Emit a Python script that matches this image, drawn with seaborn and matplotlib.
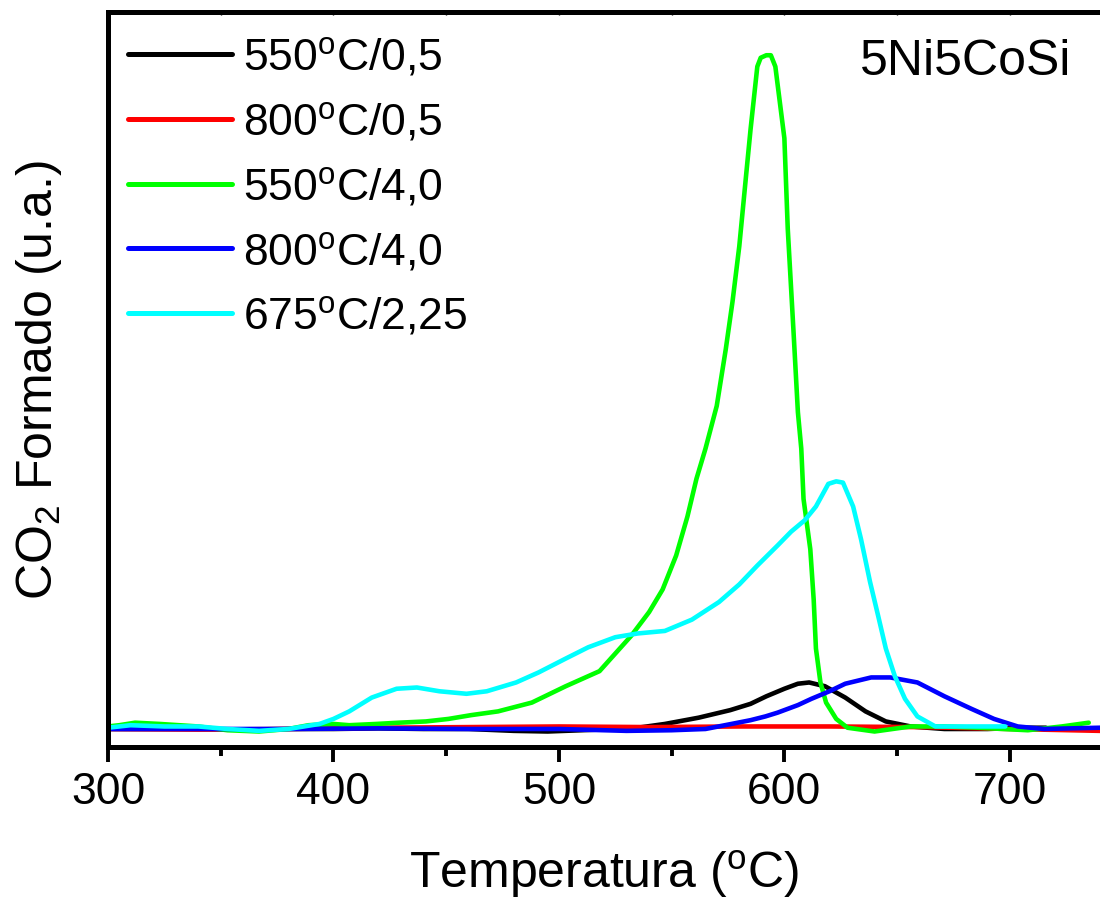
import numpy as np
import pandas as pd
import matplotlib
matplotlib.use("Agg")
import matplotlib.pyplot as plt
import seaborn as sns

# Temperature-programmed oxidation profiles (CO2 formed, arbitrary units)
labels = [r"550$^{\mathrm{o}}$C/0,5", r"800$^{\mathrm{o}}$C/0,5",
          r"550$^{\mathrm{o}}$C/4,0", r"800$^{\mathrm{o}}$C/4,0",
          r"675$^{\mathrm{o}}$C/2,25"]
colors = ["#000000", "#ff0000", "#00ff00", "#0000ff", "#00ffff"]

t_550_05 = [300, 320, 340, 360, 380, 400, 420, 440, 460, 480, 495, 510, 525, 535,
            547, 562, 576, 585, 592, 600, 606, 611, 618, 627, 636, 645, 656, 671,
            690, 705, 716]
co2_550_05 = [0.0, 0.0, 0.0, -0.005, 0.0, 0.0, 0.005, 0.0, 0.0, -0.015, -0.02, -0.01,
              0.0, 0.01, 0.04, 0.09, 0.15, 0.20, 0.26, 0.32, 0.36, 0.37, 0.34, 0.25,
              0.14, 0.06, 0.02, 0.0, 0.0, 0.01, 0.01]

t_800_05 = [300, 340, 380, 420, 460, 500, 540, 580, 620, 660, 700, 740]
co2_800_05 = [0.0, -0.005, 0.0, 0.01, 0.015, 0.02, 0.015, 0.02, 0.02, 0.015, 0.0, -0.015]

t_550_40 = [300, 305, 312, 323, 340, 353, 367, 380, 389, 400, 407, 419, 429, 441,
            451, 461, 473, 488, 503, 518, 526, 532, 540, 546, 552, 557, 561, 565,
            570, 574, 577, 580, 583, 585, 588, 589.5, 592, 594, 596, 600, 601.5,
            604, 606, 607.5, 608.5, 611.5, 613, 614, 616, 618.5, 623, 628, 640,
            656, 671, 686, 708, 723, 735]
co2_550_40 = [0.02, 0.03, 0.05, 0.04, 0.02, -0.01, -0.02, 0.0, 0.03, 0.04, 0.03,
              0.04, 0.05, 0.06, 0.08, 0.11, 0.14, 0.21, 0.34, 0.46, 0.62, 0.74,
              0.93, 1.11, 1.38, 1.69, 1.99, 2.23, 2.57, 3.02, 3.40, 3.84, 4.40,
              4.77, 5.27, 5.34, 5.36, 5.36, 5.27, 4.70, 3.98, 3.18, 2.52, 2.23,
              1.83, 1.43, 1.03, 0.64, 0.37, 0.21, 0.08, 0.01, -0.02, 0.02, 0.02,
              0.01, -0.01, 0.02, 0.05]

t_800_40 = [300, 340, 380, 420, 460, 500, 530, 550, 565, 576.5, 585, 591.6, 597,
            606, 612, 620, 627, 638.5, 647, 659, 671, 683, 693, 703.5, 715, 740]
co2_800_40 = [0.0, 0.0, 0.0, 0.005, 0.0, 0.0, -0.015, -0.01, 0.0, 0.04, 0.07, 0.10,
              0.13, 0.19, 0.24, 0.30, 0.36, 0.41, 0.41, 0.37, 0.26, 0.16, 0.08,
              0.02, 0.0, 0.01]

t_675_225 = [300, 310, 325, 340, 353, 367, 380, 393.8, 400, 407, 417, 428, 437,
             447, 459, 468, 481, 491, 503, 513, 525, 535, 547, 559, 571, 580, 588,
             597, 603, 609, 614, 619.5, 623, 626, 630.5, 634, 638, 641.6, 645, 649,
             653.5, 659, 667, 678, 698]
co2_675_225 = [0.01, 0.03, 0.02, 0.02, 0.0, -0.015, 0.0, 0.04, 0.08, 0.14, 0.25,
               0.32, 0.33, 0.30, 0.28, 0.30, 0.37, 0.45, 0.56, 0.65, 0.73, 0.76,
               0.78, 0.87, 1.01, 1.15, 1.30, 1.46, 1.57, 1.66, 1.77, 1.95, 1.97,
               1.96, 1.77, 1.51, 1.17, 0.90, 0.64, 0.42, 0.24, 0.10, 0.02, 0.02,
               0.02]

sample_name = "5Ni5CoSi"
x_ticks = [300, 400, 500, 600, 700]

series_t = [t_550_05, t_800_05, t_550_40, t_800_40, t_675_225]
series_y = [co2_550_05, co2_800_05, co2_550_40, co2_800_40, co2_675_225]
frames = [pd.DataFrame({"T": t, "CO2": y, "cond": lab})
          for t, y, lab in zip(series_t, series_y, labels)]
df = pd.concat(frames, ignore_index=True)

sns.set_theme(style="white")
plt.rcParams["font.family"] = ["Liberation Sans", "DejaVu Sans"]
plt.rcParams["mathtext.fontset"] = "custom"
plt.rcParams["mathtext.rm"] = "Liberation Sans"
plt.rcParams["mathtext.it"] = "Liberation Sans:italic"
plt.rcParams["mathtext.bf"] = "Liberation Sans:bold"
plt.rcParams["text.color"] = "black"
plt.rcParams["axes.labelcolor"] = "black"
plt.rcParams["xtick.color"] = "black"
plt.rcParams["ytick.color"] = "black"

fig = plt.figure(figsize=(11.0, 9.03), dpi=100)
ax = fig.add_axes([0.0982, 0.1717, 0.9018, 0.8139])

sns.lineplot(data=df, x="T", y="CO2", hue="cond", hue_order=labels,
             palette=colors, estimator=None, sort=False, linewidth=3.3,
             ax=ax)

ax.set_xlim(300, 740)
ax.set_ylim(-0.143, 5.704)

ax.set_xticks(x_ticks)
ax.set_xticks(np.arange(350, 740, 100), minor=True)
ax.set_yticks(np.arange(0, 6, 1))
ax.set_yticklabels([])

for side in ["left", "bottom", "top"]:
    ax.spines[side].set_visible(True)
    ax.spines[side].set_color("black")
    ax.spines[side].set_linewidth(3.6)
ax.spines["right"].set_visible(False)

ax.tick_params(axis="x", which="major", bottom=True, top=True, direction="out",
               length=10.5, width=2.8, labelsize=32, pad=7, color="black",
               labelcolor="black")
ax.tick_params(axis="x", which="minor", bottom=True, top=True, direction="out",
               length=6.5, width=2.8, color="black")
ax.xaxis.set_tick_params(which="both", top=False)
for tick in ax.xaxis.get_major_ticks() + ax.xaxis.get_minor_ticks():
    tick.tick2line.set_visible(True)
    tick.tick2line.set_markersize(2.5)
    tick.tick2line.set_markeredgewidth(1.0)
    tick.tick2line.set_marker(3)  # small inward mark under the top spine
ax.tick_params(axis="y", which="major", left=True, direction="inout",
               length=3, width=1.5, color="black")

ax.set_xlabel(r"Temperatura ($^{\mathrm{o}}$C)", fontsize=36, labelpad=25,
              color="black")
ax.set_ylabel(r"CO$_{\mathrm{2}}$ Formado (u.a.)", fontsize=36, labelpad=27,
              color="black")

leg = ax.legend(loc="upper left", bbox_to_anchor=(0.02, 0.968), frameon=False,
                fontsize=32, handlelength=2.35, handletextpad=0.25,
                labelspacing=0.49, borderpad=0, borderaxespad=0)
for line in leg.get_lines():
    line.set_linewidth(3.6)
for txt in leg.get_texts():
    txt.set_color("black")

ax.text(0.758, 0.934, sample_name, transform=ax.transAxes, fontsize=36,
        ha="left", va="center", color="black")

fig.savefig("out.png", dpi=100)
